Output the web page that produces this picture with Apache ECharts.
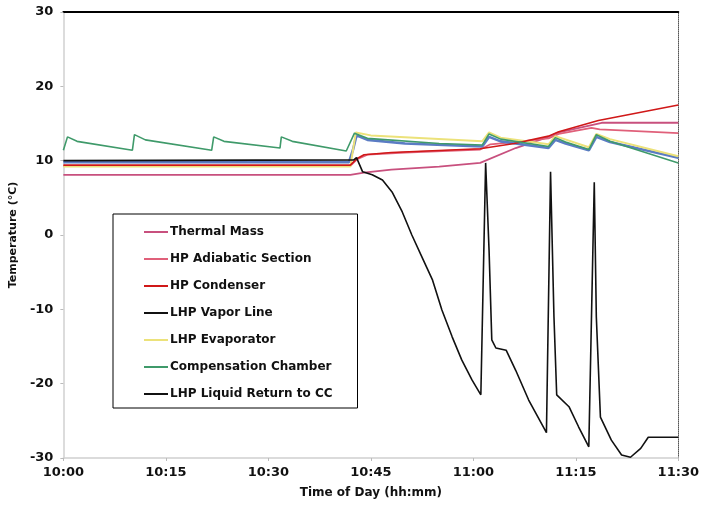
<!DOCTYPE html>
<html>
<head>
<meta charset="utf-8">
<script src="https://cdn.jsdelivr.net/npm/echarts@6/dist/echarts.min.js"></script>
<style>
  html, body { margin: 0; padding: 0; background: #fff; }
  #chart { width: 702px; height: 507px; }
</style>
</head>
<body>
<div id="chart"></div>
<script>
// minutes after 10:00, temperature in deg C
const tickLabels = ['10:00', '10:15', '10:30', '10:45', '11:00', '11:15', '11:30']

const thermalMass = [[0, 8.1], [42, 8.1], [44, 8.4], [48, 8.8], [55, 9.2], [61, 9.7], [66.2, 11.7], [71, 13.2], [72.5, 13.8], [78.8, 15.1], [90, 15.1]]
const hpAdiabatic = [[0, 9.3], [42, 9.3], [43, 10.2], [44.5, 10.8], [50, 11.1], [61, 11.5], [62.5, 12.2], [66, 12.5], [71, 13.0], [72.5, 13.6], [77.3, 14.4], [78.5, 14.2], [90, 13.7]]
const hpCondenser = [[0, 9.4], [42, 9.4], [43, 10.3], [44, 10.8], [48, 11.1], [61, 11.6], [66, 12.3], [71, 13.3], [72.5, 13.9], [78.3, 15.4], [90, 17.5]]
const lhpVaporLine = [[0, 9.8], [41.8, 9.8], [42.4, 11.5], [42.9, 13.4], [44.5, 12.8], [50, 12.3], [61.3, 11.9], [62.3, 13.2], [64, 12.6], [71, 11.7], [72, 12.8], [73.5, 12.3], [76.9, 11.4], [78, 13.2], [80, 12.5], [90, 10.4]]
const lhpEvaporator = [[0, 9.2], [42, 9.2], [42.8, 13.8], [45, 13.4], [61.3, 12.6], [62.3, 13.8], [64, 13.1], [71, 12.2], [72, 13.3], [76.9, 11.8], [78, 13.6], [80, 12.9], [90, 10.6]]
const compChamber = [[0, 11.4], [0.6, 13.2], [2, 12.6], [10.1, 11.4], [10.4, 13.5], [12, 12.8], [21.7, 11.4], [22, 13.2], [23.5, 12.6], [31.7, 11.7], [31.9, 13.2], [33.5, 12.6], [41.4, 11.3], [42.6, 13.7], [44.5, 13.0], [55, 12.3], [61.3, 12.1], [62.3, 13.6], [64, 12.9], [71, 11.9], [72, 13.1], [73.5, 12.5], [76.9, 11.5], [78, 13.5], [80, 12.6], [90, 9.7]]
const lhpLiquidReturn = [[0, 10.0], [42.5, 10.1], [42.9, 10.4], [43.8, 8.5], [45.2, 8.1], [46.7, 7.4], [48.1, 5.8], [49.6, 3.1], [51, 0], [52.5, -3], [54, -6], [55.4, -10.1], [56.9, -13.7], [58.3, -16.8], [59.8, -19.5], [61.1, -21.5], [61.8, 9.7], [62.3, -2], [62.7, -14.1], [63.3, -15.2], [64.8, -15.5], [66.2, -18.2], [68.1, -22.2], [70.7, -26.6], [71.3, 8.5], [71.8, -11], [72.2, -21.5], [74, -23.1], [75.4, -25.8], [76.9, -28.5], [77.7, 7.1], [78, -11], [78.6, -24.5], [80.2, -27.6], [81.7, -29.6], [83, -29.9], [84.5, -28.7], [85.6, -27.2], [89.7, -27.2], [90, -27.2]]

const font = 'DejaVu Sans, Arial, sans-serif'

function line(name, data, color, width, z) {
  return {
    name, type: 'line', data,
    showSymbol: false, symbol: 'none',
    lineStyle: { color, width },
    itemStyle: { color },
    z: z || 2,
    animation: false,
  }
}

const chart = echarts.init(document.getElementById('chart'), null, { renderer: 'canvas' })

chart.setOption({
  animation: false,
  grid: { left: 63, right: 22, top: 12, bottom: 49 },
  textStyle: { fontFamily: font },
  legend: {
    orient: 'vertical',
    left: 113, top: 214,
    padding: [12, 25, 8, 31],
    itemGap: 15,
    itemWidth: 24, itemHeight: 2,
    icon: 'rect',
    backgroundColor: '#fff',
    borderColor: '#000', borderWidth: 1,
    textStyle: { fontFamily: font, fontSize: 12, fontWeight: 'bold', color: '#111', padding: [0, 0, 0, -3] },
    data: [
      'Thermal Mass', 'HP Adiabatic Section', 'HP Condenser',
      { name: 'LHP Vapor Line', itemStyle: { color: '#111' } },
      'LHP Evaporator', 'Compensation Chamber', 'LHP Liquid Return to CC'
    ],
    z: 10,
  },
  xAxis: [{
    type: 'value', min: 0, max: 90, interval: 15,
    name: 'Time of Day (hh:mm)', nameLocation: 'middle', nameGap: 29,
    nameTextStyle: { fontFamily: font, fontWeight: 'bold', fontSize: 12, color: '#111' },
    axisLine: { onZero: false, lineStyle: { color: '#d0d0d0', width: 1.5 } },
    axisTick: { show: true, length: 3, lineStyle: { color: '#bbb' } },
    axisLabel: { fontFamily: font, fontWeight: 'bold', fontSize: 13, color: '#111', margin: 8,
      formatter: v => tickLabels[Math.round(v / 15)] },
    splitLine: { show: false },
  }, {
    type: 'value', min: 0, max: 90, position: 'top',
    axisLine: { show: true, onZero: false, lineStyle: { color: '#000', width: 2 } },
    axisTick: { show: false }, axisLabel: { show: false }, splitLine: { show: false },
  }],
  yAxis: [{
    type: 'value', min: -30, max: 30, interval: 10,
    name: 'Temperature (°C)', nameLocation: 'middle', nameGap: 38,
    nameTextStyle: { fontFamily: font, fontWeight: 'bold', fontSize: 11, color: '#111' },
    axisLine: { show: true, onZero: false, lineStyle: { color: '#d0d0d0', width: 1.5 } },
    axisTick: { show: true, length: 3, lineStyle: { color: '#bbb' } },
    axisLabel: { fontFamily: font, fontWeight: 'bold', fontSize: 13, color: '#111', margin: 10 },
    splitLine: { show: false },
  }, {
    type: 'value', min: -30, max: 30, position: 'right',
    axisLine: { show: true, onZero: false, lineStyle: { color: '#555', width: 1, type: 'dotted' } },
    axisTick: { show: false }, axisLabel: { show: false }, splitLine: { show: false },
  }],
  series: [
    line('Thermal Mass', thermalMass, '#c8507e', 1.8),
    line('HP Adiabatic Section', hpAdiabatic, '#e0607a', 1.8),
    line('HP Condenser', hpCondenser, '#d01818', 1.6, 3),
    line('LHP Vapor Line', lhpVaporLine, '#5b7cc4', 2.6),
    line('LHP Evaporator', lhpEvaporator, '#ece27a', 2),
    line('Compensation Chamber', compChamber, '#3f9a6a', 1.6, 3),
    line('LHP Liquid Return to CC', lhpLiquidReturn, '#111', 1.6, 4),
  ],
})
</script>
</body>
</html>
